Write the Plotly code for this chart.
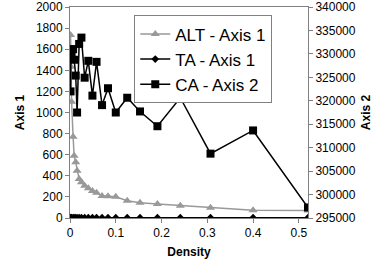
import plotly.graph_objects as go

density = [0.0012, 0.0022, 0.0035, 0.0068, 0.009, 0.0125, 0.0155, 0.020, 0.025, 0.032,
           0.040, 0.049, 0.058, 0.070, 0.083, 0.100, 0.125, 0.153, 0.191, 0.241,
           0.307, 0.40, 0.52]
alt_axis1 = [1735, 1434, 1102, 770, 590, 528, 448, 370, 338, 306,
             282, 256, 240, 208, 205, 202, 164, 145, 133, 117,
             98, 73, 70]
ta_axis1 = [3] * len(density)
ca_axis2 = [322000, 331000, 329875, 331000, 328750, 325375, 317500, 332125, 333475, 324925,
            328525, 321100, 328300, 319075, 322675, 317500, 320650, 317725, 314575, 320650,
            308725, 313675, 297250]

FONT = "Arial, Liberation Sans, sans-serif"
fig = go.Figure()
fig.add_trace(go.Scatter(x=density, y=alt_axis1, name="ALT - Axis 1", mode="lines+markers",
                         line=dict(color="#999999", width=1.5),
                         marker=dict(symbol="triangle-up", size=8, color="#999999")))
fig.add_trace(go.Scatter(x=density, y=ta_axis1, name="TA - Axis 1", mode="lines+markers",
                         line=dict(color="black", width=1.5),
                         marker=dict(symbol="diamond", size=6, color="black")))
fig.add_trace(go.Scatter(x=density, y=ca_axis2, name="CA - Axis 2", mode="lines+markers",
                         yaxis="y2",
                         line=dict(color="black", width=1.5),
                         marker=dict(symbol="square", size=8, color="black")))

fig.update_layout(
    width=387, height=270,
    margin=dict(l=70, r=79, t=7, b=52, autoexpand=False),
    paper_bgcolor="white", plot_bgcolor="white",
    font=dict(family=FONT, size=12, color="black"),
    showlegend=True,
    legend=dict(x=0.27, y=0.96, xanchor="left", yanchor="top",
                bordercolor="#808080", borderwidth=1, bgcolor="white",
                font=dict(size=17), itemwidth=30, tracegroupgap=0),
    xaxis=dict(range=[0, 0.52], dtick=0.1, tick0=0, showgrid=False, zeroline=False,
               showline=True, linecolor="#808080", mirror=True, ticks="outside",
               ticklen=4, tickcolor="#808080", automargin=False,
               title=dict(text="<b>Density</b>", font=dict(size=12), standoff=8)),
    yaxis=dict(range=[0, 2000], dtick=200, showgrid=False, zeroline=False,
               showline=True, linecolor="#808080", ticks="outside", ticklen=4,
               tickcolor="#808080", automargin=False,
               title=dict(text="<b>Axis 1</b>", font=dict(size=12), standoff=8)),
    yaxis2=dict(range=[295000, 340000], dtick=5000, overlaying="y", side="right",
                showgrid=False, zeroline=False, showline=True, linecolor="#808080",
                ticks="outside", ticklen=4, tickcolor="#808080", tickformat="d",
                automargin=False,
                title=dict(text="<b>Axis 2</b>", font=dict(size=12), standoff=6)),
)
fig.write_html("out.html", config={"displayModeBar": False},
               post_script="document.body.style.margin='0';")
